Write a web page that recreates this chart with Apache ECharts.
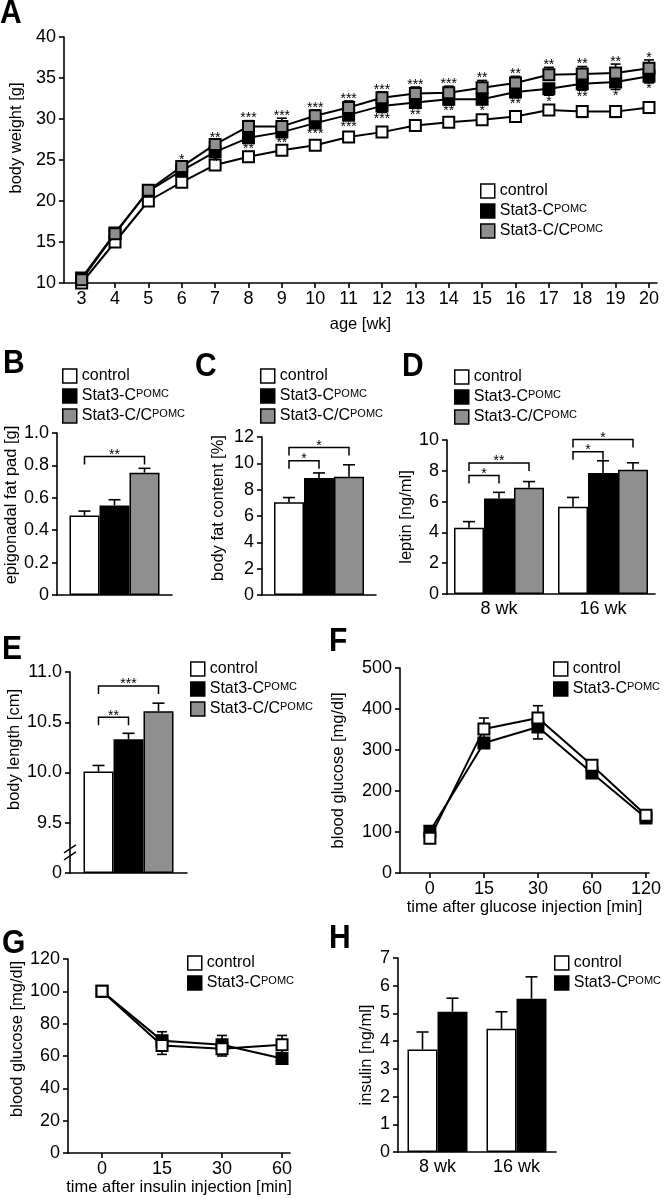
<!DOCTYPE html>
<html><head><meta charset="utf-8">
<script src="https://cdn.jsdelivr.net/npm/echarts@6/dist/echarts.min.js"></script>
<style>html,body{margin:0;padding:0;background:#fff}#c{width:664px;height:1199px}</style>
</head><body><div id="c"></div>
<script>
// ---------- DATA ----------
const weeks = [3,4,5,6,7,8,9,10,11,12,13,14,15,16,17,18,19,20];
const bwControl    = [10.0,15.0,20.0,22.3,24.4,25.4,26.2,26.8,27.8,28.4,29.2,29.6,29.9,30.3,31.1,30.9,30.9,31.4];
const bwControlErr = [0.3,0.6,0.5,0.6,0.4,0.4,0.4,0.3,0.4,0.4,0.4,0.4,0.4,0.5,0.5,0.7,0.7,0.7];
const bwC          = [10.6,16.1,21.2,23.7,26.0,27.7,28.4,29.5,30.5,31.6,32.0,32.4,32.4,33.3,33.7,34.3,34.5,35.2];
const bwCErr       = [0.3,0.3,0.3,0.5,0.5,0.6,0.6,0.6,0.7,0.8,0.7,0.7,0.6,0.7,0.8,0.8,0.9,0.8];
const bwCC         = [10.4,16.0,21.3,24.2,26.9,29.1,29.1,30.4,31.4,32.6,33.1,33.2,33.8,34.4,35.4,35.5,35.6,36.2];
const bwCCErr      = [0.3,0.3,0.3,0.5,0.5,0.7,1.0,0.7,0.8,0.7,0.8,0.8,0.9,0.8,0.9,0.9,1.1,1.0];
const starsCC = ['','','','*','**','***','***','***','***','***','***','***','**','**','**','**','**','*'];
const starsC  = ['','','','','*','**','**','***','***','***','**','**','*','**','*','**','*','*'];

const groupNames = ['control','Stat3-CPOMC','Stat3-C/CPOMC'];

const fatPad    = [0.49,0.553,0.755];
const fatPadErr = [0.028,0.035,0.027];
const fatPadSig = [[0,0,2,0.855,'**']];

const bodyFat    = [7.05,8.89,8.99];
const bodyFatErr = [0.35,0.38,0.9];
const bodyFatSig = [[0,0,1,10.2,'*'],[0,0,2,11.2,'*']];

const leptinAges = ['8 wk','16 wk'];
const leptinControl = [4.3,5.67];  const leptinControlErr = [0.4,0.6];
const leptinC       = [6.2,7.85];  const leptinCErr       = [0.4,0.8];
const leptinCC      = [6.9,8.07];  const leptinCCErr      = [0.4,0.45];
const leptinSig = [[0,0,1,7.7,'*'],[0,0,2,8.5,'**'],[1,0,1,9.24,'*'],[1,0,2,10.04,'*']];

const bodyLength    = [10.01,10.33,10.61];
const bodyLengthErr = [0.06,0.06,0.08];
const bodyLengthSig = [[0,0,1,10.55,'**'],[0,0,2,10.86,'***']];

const gttTimes = ['0','15','30','60','120'];
const gttControl = [85,351,378,263,141]; const gttControlErr = [5,27,30,8,8];
const gttC       = [102,317,356,244,134]; const gttCErr      = [5,8,29,8,6];

const ittTimes = ['0','15','30','60'];
const ittControl = [100,66.5,64.5,67];  const ittControlErr = [1,5.5,4.5,5.7];
const ittC       = [100,69.5,67,58.5];  const ittCErr       = [1,5.5,5.7,2];

const insulinAges = ['8 wk','16 wk'];
const insulinControl = [3.7,4.45];  const insulinControlErr = [0.63,0.61];
const insulinC       = [5.06,5.53]; const insulinCErr       = [0.49,0.79];

// ---------- STYLE / LAYOUT ----------
const FONT = "'Liberation Sans', Arial, Helvetica, sans-serif";
const FILL = ['#ffffff', '#000000', '#8f8f8f'];
const BARW = 30;
const TICKFS = 18, NAMEFS = 16.5, LEGFS = 16;
const grids = [
  {left:55,  top:37,  width:602, height:246}, // A
  {left:57,  top:433, width:115, height:162}, // B
  {left:262, top:437, width:114, height:158}, // C
  {left:447, top:440, width:208, height:154}, // D
  {left:70,  top:672, width:117, height:201}, // E
  {left:400, top:668, width:250, height:205}, // F
  {left:68,  top:959, width:222, height:194}, // G
  {left:398, top:958, width:158, height:194}  // H
];

function lineStyleAxis() { return {color:'#000', width:1.6}; }
function yAxis(gi, o) {
  return {
    type:'value', gridIndex:gi, min:o.min, max:o.max, interval:o.interval,
    startValue: o.startValue,
    name:o.name, nameLocation:'middle', nameGap:o.gap,
    nameTextStyle:{color:'#000', fontSize:NAMEFS, fontFamily:FONT, padding: o.shift ? [0,0,0,o.shift] : 0},
    axisLine:{show:true, onZero:false, lineStyle:lineStyleAxis()},
    axisTick:{show:true, length:5, lineStyle:lineStyleAxis()},
    axisLabel:{color:'#000', fontSize:TICKFS, fontFamily:FONT, margin:8, formatter:o.fmt},
    splitLine:{show:false}
  };
}
function catXAxis(gi, cats, showLabels) {
  return {
    type:'category', gridIndex:gi, data:cats, boundaryGap:true,
    axisLine:{show:true, onZero:false, lineStyle:lineStyleAxis()},
    axisTick:{show:false},
    axisLabel:{show:showLabels, color:'#000', fontSize:TICKFS, fontFamily:FONT, margin:6},
    splitLine:{show:false}
  };
}
function valXAxis(gi, o) {
  return {
    type:'value', gridIndex:gi, min:o.min, max:o.max,
    name:o.name, nameLocation:'middle', nameGap:o.gap,
    nameTextStyle:{color:'#000', fontSize:NAMEFS, fontFamily:FONT},
    axisLine:{show:true, onZero:false, lineStyle:lineStyleAxis()},
    axisTick:{show:true, length:5, customValues:o.ticks, lineStyle:lineStyleAxis()},
    axisLabel:{color:'#000', fontSize:TICKFS, fontFamily:FONT, margin:7, customValues:o.ticks, formatter:o.fmt},
    splitLine:{show:false}
  };
}

// error bars for line charts: data [x, y, up, down]
function errLineRender(params, api) {
  const x = api.value(0), y = api.value(1), up = api.value(2), dn = api.value(3);
  const pt = api.coord([x, y + up]), pb = api.coord([x, y - dn]);
  const st = {stroke:'#000', lineWidth:1.6};
  const ch = [{type:'line', shape:{x1:pt[0], y1:pt[1], x2:pb[0], y2:pb[1]}, style:st}];
  if (up > 0) ch.push({type:'line', shape:{x1:pt[0]-5, y1:pt[1], x2:pt[0]+5, y2:pt[1]}, style:st});
  if (dn > 0) ch.push({type:'line', shape:{x1:pb[0]-5, y1:pb[1], x2:pb[0]+5, y2:pb[1]}, style:st});
  return {type:'group', children:ch};
}
function errLineSeries(gi, xs, ys, ups, dns, z) {
  return {type:'custom', xAxisIndex:gi, yAxisIndex:gi, z:z||1, silent:true,
    data: ys.map((v,i)=>[xs[i], v, ups ? ups[i] : 0, dns ? dns[i] : 0]),
    renderItem: errLineRender};
}
// error bars for bars: data [cat, value, err]; pos = offset in bar widths
function errBarSeries(gi, vals, errs, pos) {
  return {type:'custom', xAxisIndex:gi, yAxisIndex:gi, z:5, silent:true,
    data: vals.map((v,i)=>[i, v, errs[i]]),
    renderItem: function(params, api) {
      const c = api.coord([api.value(0), api.value(1)]);
      const t = api.coord([api.value(0), api.value(1) + api.value(2)]);
      const x = c[0] + pos*BARW;
      const st = {stroke:'#000', lineWidth:1.6};
      return {type:'group', children:[
        {type:'line', shape:{x1:x, y1:c[1], x2:x, y2:t[1]}, style:st},
        {type:'line', shape:{x1:x-6, y1:t[1], x2:x+6, y2:t[1]}, style:st}
      ]};
    }};
}
// significance brackets: sig rows [cat, fromBar, toBar, y, label]
function sigSeries(gi, sig, nBars) {
  return {type:'custom', xAxisIndex:gi, yAxisIndex:gi, z:6, silent:true,
    data: sig.map(s=>[s[0], s[3]]),
    renderItem: function(params, api) {
      const s = sig[params.dataIndex];
      const c = api.coord([api.value(0), api.value(1)]);
      const x1 = c[0] + (s[1] - (nBars-1)/2)*BARW;
      const x2 = c[0] + (s[2] - (nBars-1)/2)*BARW;
      const y = c[1];
      const st = {stroke:'#000', lineWidth:1.5, fill:null};
      return {type:'group', children:[
        {type:'polyline', shape:{points:[[x1,y+8],[x1,y],[x2,y],[x2,y+8]]}, style:st},
        {type:'text', style:{text:s[4], x:(x1+x2)/2, y:y-1.5, textAlign:'center', textVerticalAlign:'middle',
          fontSize:14, fontFamily:FONT, fill:'#000'}}
      ]};
    }};
}
// star labels for panel A
function starSeries(ys, errs, stars, above) {
  return {type:'custom', xAxisIndex:0, yAxisIndex:0, z:6, silent:true,
    data: ys.map((v,i)=>[weeks[i], above ? v + errs[i] : v - errs[i]]),
    renderItem: function(params, api) {
      const p = api.coord([api.value(0), api.value(1)]);
      return {type:'text', style:{text:stars[params.dataIndex], x:p[0], y: above ? p[1]-2 : p[1]+6.5,
        textAlign:'center', textVerticalAlign:'middle', fontSize:14, fontFamily:FONT, fill:'#000'}};
    }};
}
function lineSeries(gi, name, xs, ys, k, z) {
  return {type:'line', name:name, xAxisIndex:gi, yAxisIndex:gi, z:z, clip:false,
    data: ys.map((v,i)=>[xs[i], v]),
    symbol:'rect', symbolSize:11,
    lineStyle:{color:'#000', width:2},
    itemStyle:{color:FILL[k], borderColor:'#000', borderWidth:2},
    emphasis:{disabled:true}, animation:false};
}
function barSeries(gi, name, vals, k) {
  return {type:'bar', name:name, xAxisIndex:gi, yAxisIndex:gi, barWidth:BARW, barGap:'0%',
    data: vals, itemStyle:{color:FILL[k], borderColor:'#000', borderWidth:1.5},
    emphasis:{disabled:true}, animation:false};
}
function legendFmt(name) {
  if (name.endsWith('POMC')) return '{n|' + name.slice(0, -4) + '}{s|POMC}';
  return '{n|' + name + '}';
}
function legend(left, top, n) {
  return {
    left:left, top:top, padding:0, orient:'vertical', itemWidth:14, itemHeight:14, itemGap:4,
    icon:'rect', selectedMode:false,
    data: groupNames.slice(0, n).map((nm,k)=>({name:nm, icon:'rect',
      itemStyle:{color:FILL[k], borderColor:'#000', borderWidth:1.5}})),
    formatter: legendFmt,
    textStyle:{color:'#000', fontSize:LEGFS, fontFamily:FONT,
      rich:{n:{fontSize:LEGFS, fontFamily:FONT, color:'#000'},
            s:{fontSize:11, fontFamily:FONT, color:'#000', verticalAlign:'top'}}}
  };
}
function letter(t, x, y) {
  return {type:'text', x:x, y:y, scaleY:1.12,
    style:{text:t, x:0, y:0, textVerticalAlign:'top', fontSize:30, fontWeight:'bold', fontFamily:FONT, fill:'#000'}};
}

const idx3 = [0,1,2];
const option = {
  animation:false,
  textStyle:{fontFamily:FONT},
  grid: grids,
  xAxis: [
    valXAxis(0, {min:2.47, max:20.24, ticks:weeks, name:'age [wk]', gap:33}),
    catXAxis(1, [''], false),
    catXAxis(2, [''], false),
    catXAxis(3, leptinAges, true),
    catXAxis(4, [''], false),
    valXAxis(5, {min:-0.553, max:4.055, ticks:[0,1,2,3,4], fmt:v=>gttTimes[v],
      name:'time after glucose injection [min]', gap:24}),
    valXAxis(6, {min:-0.567, max:3.133, ticks:[0,1,2,3], fmt:v=>ittTimes[v],
      name:'time after insulin injection [min]', gap:25}),
    catXAxis(7, insulinAges, true)
  ],
  yAxis: [
    yAxis(0, {min:10, max:40, interval:5, name:'body weight [g]', gap:31, shift:44}),
    yAxis(1, {min:0, max:1, interval:0.2, name:'epigonadal fat pad [g]', gap:33, shift:18,
      fmt:v=> v===0 ? '0' : v.toFixed(1)}),
    yAxis(2, {min:0, max:12, interval:2, name:'body fat content [%]', gap:35, shift:16}),
    yAxis(3, {min:0, max:10, interval:2, name:'leptin [ng/ml]', gap:27}),
    yAxis(4, {min:9, max:11, interval:0.5, startValue:9, name:'body length [cm]', gap:43, shift:46,
      fmt:v=> v===9 ? '0' : v.toFixed(1)}),
    yAxis(5, {min:0, max:500, interval:100, name:'blood glucose [mg/dl]', gap:53}),
    yAxis(6, {min:0, max:120, interval:20, name:'blood glucose [mg/dl]', gap:41, shift:34}),
    yAxis(7, {min:0, max:7, interval:1, name:'insulin [ng/ml]', gap:23})
  ],
  legend: [
    legend(480, 183, 3), legend(62, 368, 3), legend(260, 368, 3), legend(454, 369, 3),
    legend(190, 661, 3), legend(553, 661, 2), legend(187, 955, 2), legend(554, 955, 2)
  ],
  series: [
    // A
    errLineSeries(0, weeks, bwControl, bwControlErr, bwControlErr, 1),
    errLineSeries(0, weeks, bwC, null, bwCErr, 1),
    errLineSeries(0, weeks, bwCC, bwCCErr, null, 1),
    lineSeries(0, groupNames[0], weeks, bwControl, 0, 3),
    lineSeries(0, groupNames[1], weeks, bwC, 1, 4),
    lineSeries(0, groupNames[2], weeks, bwCC, 2, 5),
    starSeries(bwCC, bwCCErr, starsCC, true),
    starSeries(bwC, bwCErr, starsC, false),
    // B
    barSeries(1, groupNames[0], [fatPad[0]], 0),
    barSeries(1, groupNames[1], [fatPad[1]], 1),
    barSeries(1, groupNames[2], [fatPad[2]], 2),
    ...idx3.map(k=>errBarSeries(1, [fatPad[k]], [fatPadErr[k]], k-1)),
    sigSeries(1, fatPadSig, 3),
    // C
    barSeries(2, groupNames[0], [bodyFat[0]], 0),
    barSeries(2, groupNames[1], [bodyFat[1]], 1),
    barSeries(2, groupNames[2], [bodyFat[2]], 2),
    ...idx3.map(k=>errBarSeries(2, [bodyFat[k]], [bodyFatErr[k]], k-1)),
    sigSeries(2, bodyFatSig, 3),
    // D
    barSeries(3, groupNames[0], leptinControl, 0),
    barSeries(3, groupNames[1], leptinC, 1),
    barSeries(3, groupNames[2], leptinCC, 2),
    errBarSeries(3, leptinControl, leptinControlErr, -1),
    errBarSeries(3, leptinC, leptinCErr, 0),
    errBarSeries(3, leptinCC, leptinCCErr, 1),
    sigSeries(3, leptinSig, 3),
    // E
    barSeries(4, groupNames[0], [bodyLength[0]], 0),
    barSeries(4, groupNames[1], [bodyLength[1]], 1),
    barSeries(4, groupNames[2], [bodyLength[2]], 2),
    ...idx3.map(k=>errBarSeries(4, [bodyLength[k]], [bodyLengthErr[k]], k-1)),
    sigSeries(4, bodyLengthSig, 3),
    // F
    errLineSeries(5, [0,1,2,3,4], gttControl, gttControlErr, gttControlErr, 1),
    errLineSeries(5, [0,1,2,3,4], gttC, gttCErr, gttCErr, 1),
    lineSeries(5, groupNames[1], [0,1,2,3,4], gttC, 1, 3),
    lineSeries(5, groupNames[0], [0,1,2,3,4], gttControl, 0, 4),
    // G
    errLineSeries(6, [0,1,2,3], ittControl, ittControlErr, ittControlErr, 1),
    errLineSeries(6, [0,1,2,3], ittC, ittCErr, ittCErr, 1),
    lineSeries(6, groupNames[1], [0,1,2,3], ittC, 1, 3),
    lineSeries(6, groupNames[0], [0,1,2,3], ittControl, 0, 4),
    // H
    barSeries(7, groupNames[0], insulinControl, 0),
    barSeries(7, groupNames[1], insulinC, 1),
    errBarSeries(7, insulinControl, insulinControlErr, -0.5),
    errBarSeries(7, insulinC, insulinCErr, 0.5)
  ],
  graphic: [
    letter('A', 0, -3), letter('B', 3, 347), letter('C', 195, 350), letter('D', 402, 350),
    letter('E', 2, 633), letter('F', 329, 625), letter('G', 2, 927), letter('H', 329, 922)
  ]
};

const chart = echarts.init(document.getElementById('c'));
chart.setOption(option);

// axis break mark on panel E
const yb = chart.convertToPixel({yAxisIndex:4}, 9.2);
const xb = grids[4].left;
chart.setOption({graphic: option.graphic.concat([
  {type:'group', z:100, children:[
    {type:'rect', shape:{x:xb-3, y:yb-3, width:6, height:6}, style:{fill:'#fff'}},
    {type:'line', shape:{x1:xb-6, y1:yb, x2:xb+6, y2:yb-8}, style:{stroke:'#000', lineWidth:1.4}},
    {type:'line', shape:{x1:xb-6, y1:yb+7, x2:xb+6, y2:yb-1}, style:{stroke:'#000', lineWidth:1.4}}
  ]}
])});
</script>
</body></html>
